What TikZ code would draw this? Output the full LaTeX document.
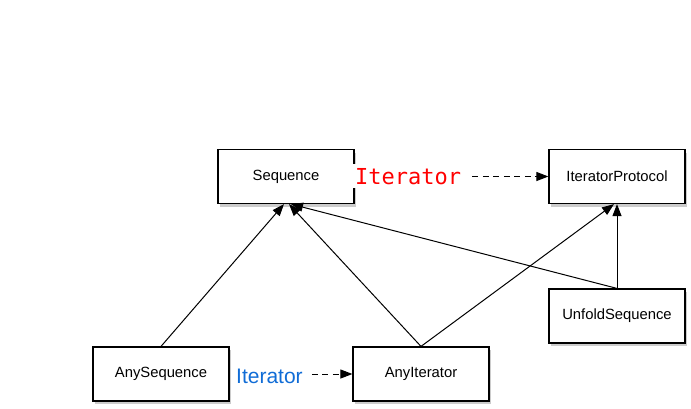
\documentclass[tikz,border=0pt]{standalone}
\usepackage{fontspec}
\setmainfont{Liberation Sans}
\newfontfamily\monofont{DejaVu Sans Mono}
\usetikzlibrary{arrows.meta,shadows}
\definecolor{lblblue}{RGB}{16,108,214}
\definecolor{lblred}{RGB}{255,0,0}
\begin{document}
\begin{tikzpicture}[x=1pt,y=-1pt,
  box/.style={draw, line width=1.2pt, fill=white, minimum width=136pt, minimum height=54pt,
    inner sep=0pt, font=\fontsize{14.8}{16}\selectfont,
    drop shadow={shadow xshift=2pt, shadow yshift=-3pt, opacity=0.4}},
  inh/.style={-{Triangle[length=12pt,width=9pt]}, line width=1pt},
  dep/.style={-{Triangle[length=12pt,width=9pt]}, line width=1pt, dash pattern=on 6pt off 4.5pt}]
\useasboundingbox (0,0) rectangle (691,408);
\node[box] (seq) at (286,176.5) {Sequence};
\node[box] (itp) at (617,176.5) {IteratorProtocol};
\node[box] (unf) at (617,316) {UnfoldSequence};
\node[box] (anys) at (161,374) {AnySequence};
\node[box] (anyi) at (421,374) {AnyIterator};
\node[anchor=base west, fill=white, inner xsep=2pt, inner ysep=4pt, text=lblred,
  font=\monofont\fontsize{22}{24}\selectfont] (lab1) at (353,184) {Iterator};
\node[anchor=base west, inner sep=0pt, text=lblblue,
  font=\fontsize{21}{24}\selectfont] (lab2) at (236,383) {Iterator};
\draw[inh] (anys.north) -- ([xshift=-2pt]seq.south);
\draw[inh] (anyi.north) -- ([xshift=3pt]seq.south);
\draw[inh] (unf.north) -- ([xshift=5pt]seq.south);
\draw[inh] (anyi.north) -- ([xshift=-3pt]itp.south);
\draw[inh] (unf.north) -- (itp.south);
\draw[dep, shorten <=9pt] (itp.west -| lab1.east) -- (itp.west);
\draw[dep, shorten <=9pt] (anyi.west -| lab2.east) -- (anyi.west);
\end{tikzpicture}
\end{document}
